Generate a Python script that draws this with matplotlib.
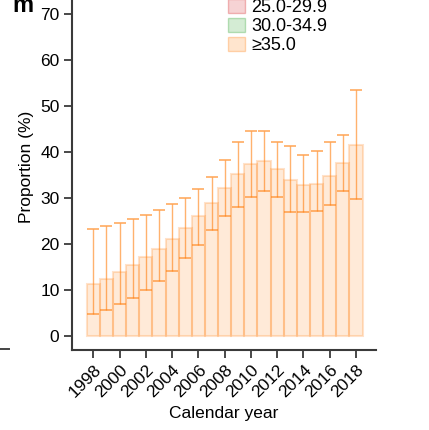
import numpy as np
import matplotlib
matplotlib.use("Agg")
import matplotlib.pyplot as plt
from matplotlib.patches import Patch
from matplotlib.lines import Line2D

plt.rcParams["font.family"] = ["Liberation Sans", "DejaVu Sans"]
plt.rcParams["font.size"] = 12.5

# proportion with BMI >= 35.0, by calendar year
years = np.arange(1998, 2019)
prop = [11.2, 12.3, 13.8, 15.4, 17.1, 18.8, 21.0, 23.5, 26.0, 28.8, 32.1,
        35.1, 37.4, 38.0, 36.2, 33.9, 32.8, 33.0, 34.7, 37.6, 41.4]
ci_low = [4.8, 5.7, 7.0, 8.3, 9.9, 11.9, 14.1, 17.0, 19.8, 23.1, 26.0,
          28.0, 30.1, 31.4, 30.2, 27.0, 27.0, 27.1, 28.5, 31.4, 29.7]
ci_high = [23.2, 23.8, 24.5, 25.4, 26.3, 27.3, 28.6, 30.0, 31.9, 34.6, 38.3,
           42.1, 44.6, 44.6, 42.2, 41.2, 39.3, 40.1, 42.2, 43.6, 53.5]
legend_labels = ["25.0-29.9", "30.0-34.9", "≥35.0"]
legend_colors = ["tab:red", "tab:green", "tab:orange"]
tick_years = np.arange(1998, 2019, 2)

W, H = 429, 430
fig = plt.figure(figsize=(W / 100, H / 100), dpi=100)
ax = fig.add_axes([72 / W, 1 - 350 / H, (375.7 - 72) / W, (350 + 17) / H])

prop = np.array(prop)
err = np.vstack([prop - np.array(ci_low), np.array(ci_high) - prop])

ax.bar(years, prop, width=1.0, color=matplotlib.colors.to_rgba("tab:orange", 0.16),
       edgecolor=matplotlib.colors.to_rgba("tab:orange", 0.22), linewidth=1.5, zorder=2)
ax.errorbar(years, prop, yerr=err, fmt="none", ecolor="tab:orange", alpha=0.6,
            elinewidth=1.0, capsize=4, capthick=1.3, zorder=3)

ax.set_xlim(1996.38, 2019.5)
ax.set_ylim(-3.04, 76.7)
ax.set_yticks(np.arange(0, 71, 10))
ax.set_xticks(tick_years)
ax.set_xticklabels([str(y) for y in tick_years], rotation=45, ha="right",
                   rotation_mode="anchor")
ax.tick_params(axis="both", length=6, width=1.3, color="#3a3a3a", labelsize=12.5,
               pad=3)
for side in ["top", "right"]:
    ax.spines[side].set_visible(False)
for side in ["left", "bottom"]:
    ax.spines[side].set_linewidth(1.5)
    ax.spines[side].set_color("#3a3a3a")

ax.set_xlabel("Calendar year", fontsize=12.5, labelpad=4)
ax.set_ylabel("Proportion (%)", fontsize=12.5)
ax.yaxis.set_label_coords(-(72 - 34) / (375.7 - 72), (350 - 166.5) / (350 + 17))

handles = [Patch(facecolor=matplotlib.colors.to_rgba(c, 0.2),
                 edgecolor=matplotlib.colors.to_rgba(c, 0.3), linewidth=1.0)
           for c in legend_colors]
fig.legend(handles, legend_labels, loc="upper left", frameon=False,
           bbox_to_anchor=(228 / W, 1 + 1 / H), fontsize=13,
           handlelength=0.95, handleheight=0.8, handletextpad=0.35,
           labelspacing=0.1, borderpad=0.0, borderaxespad=0.0)

fig.text(12 / W, 1 - 12 / H, "m", fontsize=17, fontweight="bold",
         ha="left", va="baseline")
fig.add_artist(Line2D([0, 9 / W], [1 - 349 / H, 1 - 349 / H], color="#444444",
                      linewidth=1.4, transform=fig.transFigure))

fig.savefig("out.png", dpi=100)
